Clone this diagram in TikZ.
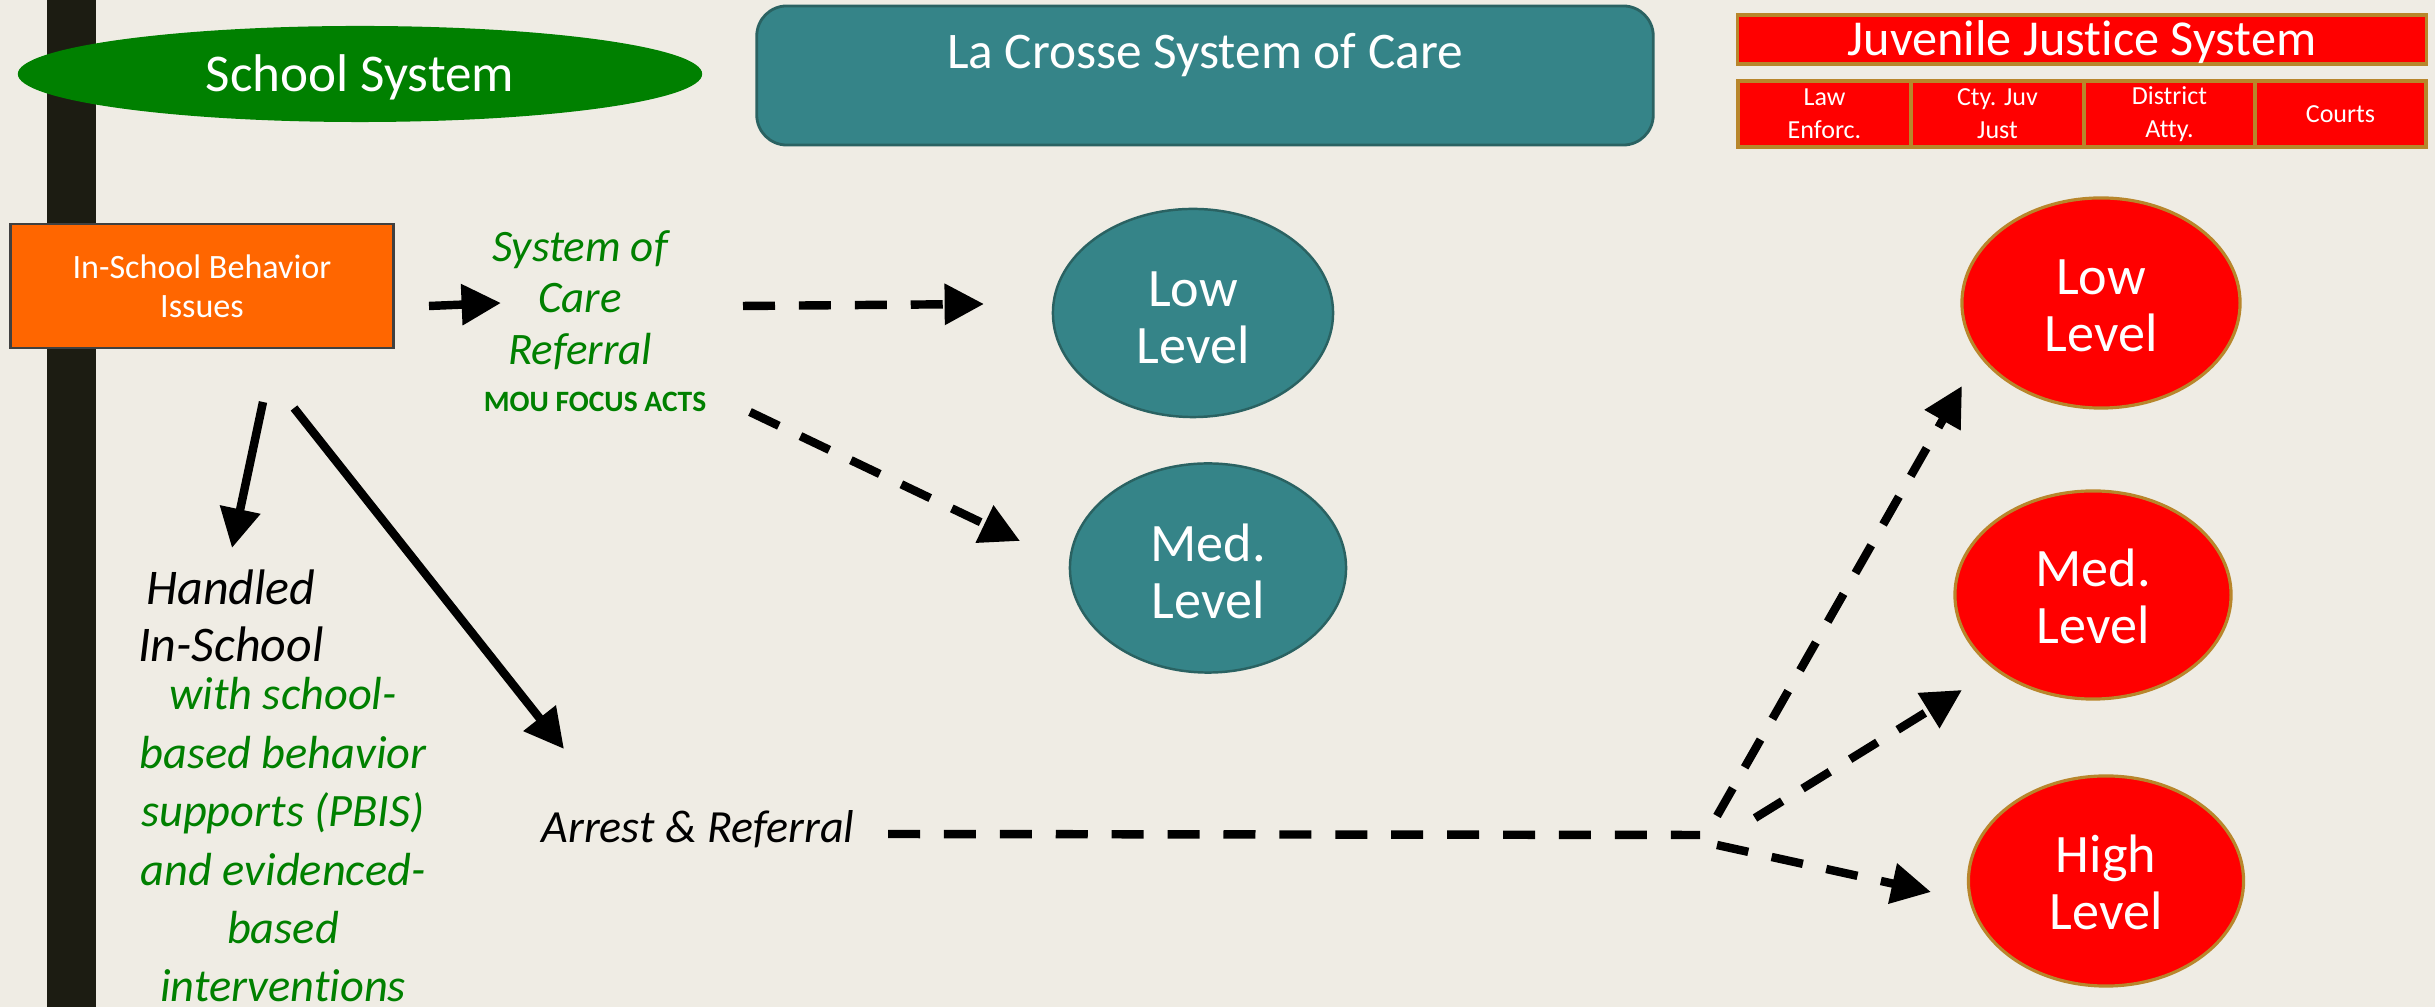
\documentclass[tikz,border=0pt]{standalone}
\usepackage{fontspec}
\setmainfont{Carlito}[Ligatures=NoCommon]
\usetikzlibrary{arrows.meta,shapes.geometric}
\definecolor{bgc}{HTML}{EFECE4}
\definecolor{barc}{HTML}{1C1C12}
\definecolor{sgreen}{HTML}{008000}
\definecolor{tealf}{HTML}{358488}
\definecolor{tealb}{HTML}{2A6262}
\definecolor{orgf}{HTML}{FF6600}
\definecolor{goldb}{HTML}{B8862B}
\newcommand\fsBig{\fontsize{15.1pt}{16.2pt}\selectfont}
\newcommand\fsEll{\fontsize{15.4pt}{16.2pt}\selectfont}
\newcommand\upstrut{\rule{0pt}{12.5pt}}
\newcommand\redstrut{\rule{0pt}{11.3pt}}
\begin{document}
\begin{tikzpicture}[x=0.01cm,y=-0.01cm,
  arr/.style={line width=2.4pt, -{Triangle[length=11.2pt,width=11.2pt]}},
  darr/.style={arr, dash pattern=on 9.1pt off 6.8pt},
  dline/.style={line width=2.4pt, dash pattern=on 9.1pt off 6.8pt},
  tealell/.style={ellipse, fill=tealf, draw=tealb, line width=0.7pt, text=white, align=center, inner sep=0pt, font=\fsEll},
  redell/.style={ellipse, fill=red, draw=goldb, line width=0.9pt, text=white, align=center, inner sep=0pt, font=\fsEll},
  subbox/.style={rectangle, fill=red, draw=goldb, line width=0.9pt, text=white, align=center, inner sep=0pt, minimum height=0.66cm, font=\fontsize{7.4pt}{9.4pt}\selectfont}
]
\fill[bgc] (0,0) rectangle (2435,1007);
\useasboundingbox (0,0) rectangle (2435,1007);
\fill[barc] (47,0) rectangle (96,1007);

% top headers
\node[ellipse, fill=sgreen, inner sep=0pt, minimum width=6.84cm, minimum height=0.96cm, text=white, font=\fsBig, text height=9.7pt, text depth=0pt] (school) at (360,74) {School System};
\node[rectangle, rounded corners=0.3cm, fill=tealf, draw=tealb, line width=0.8pt, minimum width=8.96cm, minimum height=1.39cm, text=white, font=\fontsize{14.6pt}{16pt}\selectfont, text height=9.4pt, text depth=13.4pt] (soc) at (1205,75.5) {La Crosse System of Care};
\node[rectangle, fill=red, draw=goldb, line width=0.9pt, minimum width=6.88cm, minimum height=0.49cm, inner sep=0pt, text=white, font=\fontsize{14.3pt}{16pt}\selectfont, text height=9.2pt, text depth=0pt] (jjs) at (2082,39.5) {Juvenile Justice System};
\node[subbox, minimum width=1.73cm] (law) at (1824.5,114) {Law\\Enforc.};
\node[subbox, minimum width=1.73cm] (cty) at (1997.5,114) {Cty. Juv\\Just};
\node[subbox, minimum width=1.71cm] (da) at (2169.5,114) {District\\Atty.};
\node[subbox, minimum width=1.71cm] (courts) at (2340.5,114) {Courts};

% left side
\node[rectangle, fill=orgf, draw=black!75, line width=0.8pt, minimum width=3.83cm, minimum height=1.24cm, text=white, align=center, font=\fontsize{9.7pt}{11.1pt}\selectfont] (isb) at (202,286) {In-School Behavior\\Issues};
\node[text=sgreen, align=center, font=\fontsize{12.8pt}{14.7pt}\selectfont\itshape] (socref) at (580,300) {System of\\Care\\Referral};
\node[anchor=base, text=sgreen, font=\fontsize{8.4pt}{10pt}\selectfont\bfseries] (mou) at (595,412) {MOU FOCUS ACTS};
\node[align=center, inner sep=1pt, font=\fontsize{14.2pt}{16.2pt}\selectfont\itshape] (handled) at (231,616) {Handled\\In-School};
\node[text=sgreen, align=center, inner sep=0.5pt, font=\fontsize{13.2pt}{16.6pt}\selectfont\itshape] (pbis) at (283,840) {with school-\\based behavior\\supports (PBIS)\\and evidenced-\\based\\interventions};
\node[anchor=base, font=\fontsize{13.1pt}{16pt}\selectfont\itshape] (arrest) at (698,843) {Arrest \& Referral};

% level ellipses
\node[tealell, minimum width=2.80cm, minimum height=2.08cm] (tlow) at (1193,313) {\upstrut Low\\Level};
\node[tealell, minimum width=2.76cm, minimum height=2.09cm] (tmed) at (1208,568) {\upstrut Med.\\Level};
\node[redell, minimum width=2.78cm, minimum height=2.10cm] (rlow) at (2101,303) {\redstrut Low\\Level};
\node[redell, minimum width=2.76cm, minimum height=2.08cm] (rmed) at (2093,595) {\redstrut Med.\\Level};
\node[redell, minimum width=2.75cm, minimum height=2.10cm] (rhigh) at (2106,881) {\redstrut High\\Level};

% connector end points
\coordinate (a1s) at (263,402); \coordinate (a1e) at (232,548);
\coordinate (a2s) at (294,408); \coordinate (a2e) at (564,749);
\coordinate (a3s) at (429,306); \coordinate (a3e) at (501,303);
\coordinate (d1s) at (743,306); \coordinate (d1e) at (984,304);
\coordinate (d2s) at (750,412); \coordinate (d2e) at (1020,541);
\coordinate (hs) at (888,834); \coordinate (hj) at (1700,835);
\coordinate (j1s) at (1717,816); \coordinate (j1e) at (1962,386);
\coordinate (j2s) at (1755,818); \coordinate (j2e) at (1962,690);
\coordinate (j3s) at (1717,845); \coordinate (j3e) at (1931,892);

\draw[arr] (a1s) -- (a1e);
\draw[arr] (a2s) -- (a2e);
\draw[arr] (a3s) -- (a3e);
\draw[darr] (d1s) -- (d1e);
\draw[darr] (d2s) -- (d2e);
\draw[dline] (hs) -- (hj);
\draw[darr] (j1s) -- (j1e);
\draw[darr] (j2s) -- (j2e);
\draw[darr] (j3s) -- (j3e);
\end{tikzpicture}
\end{document}
